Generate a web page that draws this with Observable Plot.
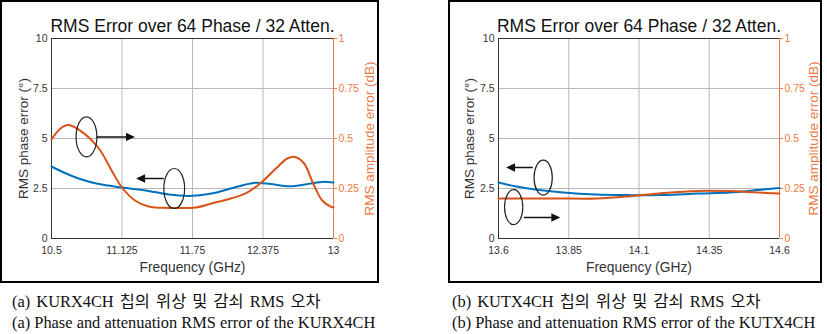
<!DOCTYPE html>
<html>
<head>
<meta charset="utf-8">
<script src="https://cdn.jsdelivr.net/npm/d3@7"></script>
<script src="https://cdn.jsdelivr.net/npm/@observablehq/plot@0.6"></script>
<style>
  body { margin: 0; background: #fff; width: 827px; height: 334px; position: relative; overflow: hidden; }
  .box { position: absolute; border: 2px solid #000; box-sizing: border-box; }
  .chart { position: absolute; }
  .cap { position: absolute; font-family: "Liberation Serif", "Times New Roman", "Noto Sans CJK KR", serif; font-size: 16.4px; line-height: 20px; color: #111; white-space: nowrap; }
  .ko { word-spacing: 2px; }
</style>
</head>
<body>
<div id="chartA" class="chart" style="left:2px;top:2px"></div>
<div id="chartB" class="chart" style="left:450px;top:2px"></div>
<div class="box" style="left:0px;top:0px;width:379px;height:283px"></div>
<div class="box" style="left:448px;top:0px;width:374px;height:283px"></div>
<div class="cap ko" style="left:12px;top:292px">(a) KURX4CH 칩의 위상 및 감쇠 RMS 오차</div>
<div class="cap" style="left:12px;top:313px">(a) Phase and attenuation RMS error of the KURX4CH</div>
<div class="cap ko" style="left:452px;top:292px">(b) KUTX4CH 칩의 위상 및 감쇠 RMS 오차</div>
<div class="cap" style="left:452px;top:313px">(b) Phase and attenuation RMS error of the KUTX4CH</div>
<script>
// ---------- data ----------
const chartTitle = "RMS Error over 64 Phase / 32 Atten.";
const xLabel = "Frequency (GHz)";
const yLabelLeft = "RMS phase error (°)";
const yLabelRight = "RMS amplitude error (dB)";

const yTicks = [0, 2.5, 5, 7.5, 10];           // phase (deg); right axis = /10 dB

// (a) KURX4CH
const aTicksX = [10.5, 11.125, 11.75, 12.375, 13];
const aPhaseFreq = [10.5, 10.59, 10.74, 10.92, 11.125, 11.36, 11.54, 11.72, 11.92, 12.09, 12.29, 12.41, 12.62, 12.8, 12.9, 13.0];
const aPhase     = [3.6, 3.35, 3.0, 2.72, 2.55, 2.38, 2.2, 2.13, 2.25, 2.5, 2.78, 2.75, 2.61, 2.75, 2.83, 2.8];
const aAmpFreq = [10.5, 10.58, 10.65, 10.77, 10.92, 11.04, 11.125, 11.24, 11.36, 11.54, 11.78, 11.92, 12.09, 12.23, 12.35, 12.49, 12.59, 12.66, 12.74, 12.82, 12.9, 12.98, 13.0];
const aAmp     = [0.495, 0.55, 0.567, 0.533, 0.45, 0.333, 0.255, 0.19, 0.16, 0.153, 0.155, 0.175, 0.2, 0.228, 0.275, 0.35, 0.40, 0.408, 0.375, 0.275, 0.19, 0.158, 0.155];
const aEllipseF = [10.81, 11.588];
const aEllipseV = [5.08, 2.5];
const aArrowF1 = [10.9, 11.496];
const aArrowF2 = [11.24, 11.25];
const aArrowV  = [5.08, 3.0];

// (b) KUTX4CH
const bTicksX = [13.6, 13.85, 14.1, 14.35, 14.6];
const bPhaseFreq = [13.6, 13.66, 13.73, 13.83, 13.945, 14.06, 14.19, 14.31, 14.42, 14.52, 14.6];
const bPhase     = [2.8, 2.61, 2.45, 2.3, 2.2, 2.17, 2.17, 2.25, 2.3, 2.42, 2.53];
const bAmpFreq = [13.6, 13.8, 13.95, 14.06, 14.19, 14.31, 14.42, 14.52, 14.6];
const bAmp     = [0.2, 0.2, 0.2, 0.21, 0.228, 0.238, 0.237, 0.23, 0.225];
const bEllipseF = [13.759, 13.654];
const bEllipseV = [3.04, 1.565];
const bArrowF1 = [13.722, 13.69];
const bArrowF2 = [13.627, 13.82];
const bArrowV  = [3.55, 1.05];

// ---------- styling ----------
const BLUE = "#0072BD";
const ORANGE = "#D95319";
const ORANGE_AXIS = "#EC7A45";
const AXIS_GRAY = "#333333";
const GRID = "#b8b8b8";

const ellipseSymbol = {
  draw(ctx, size) {
    const ry = Math.sqrt(size / Math.PI), rx = ry * 0.52, k = 0.5523;
    ctx.moveTo(rx, 0);
    ctx.bezierCurveTo(rx, ry * k, rx * k, ry, 0, ry);
    ctx.bezierCurveTo(-rx * k, ry, -rx, ry * k, -rx, 0);
    ctx.bezierCurveTo(-rx, -ry * k, -rx * k, -ry, 0, -ry);
    ctx.bezierCurveTo(rx * k, -ry, rx, -ry * k, rx, 0);
    ctx.closePath();
  }
};
const headSymbol = {
  draw(ctx) {
    ctx.moveTo(0, 0);
    ctx.lineTo(-9, -4.2);
    ctx.lineTo(-9, 4.2);
    ctx.closePath();
  }
};

function zip(fs, vs) { return fs.map((f, i) => ({f, v: vs[i]})); }

function makeChart(o) {
  const phase = zip(o.phaseFreq, o.phase);
  const amp = zip(o.ampFreq, o.amp);
  const ellipses = zip(o.ellF, o.ellV);
  const arrows = o.arrF1.map((f1, i) => ({f1, f2: o.arrF2[i], v: o.arrV[i]}));
  const x0 = o.ticksX[0], x1 = o.ticksX[o.ticksX.length - 1];
  return Plot.plot({
    width: o.width, height: 279,
    marginLeft: o.ml, marginRight: o.mr, marginTop: 36, marginBottom: 43,
    style: {fontFamily: "Liberation Sans, Arial, sans-serif", background: "transparent", overflow: "visible"},
    x: {domain: [x0, x1]},
    y: {domain: [0, 10]},
    marks: [
      Plot.gridX(o.ticksX, {stroke: GRID, strokeOpacity: 1, strokeWidth: 1}),
      Plot.gridY(yTicks, {stroke: GRID, strokeOpacity: 1, strokeWidth: 1}),
      Plot.ruleY([10], {stroke: AXIS_GRAY, strokeWidth: 1}),
      Plot.ruleY([0], {stroke: AXIS_GRAY, strokeWidth: 1}),
      Plot.ruleX([x0], {stroke: AXIS_GRAY, strokeWidth: 1}),
      Plot.ruleX([x1], {stroke: ORANGE_AXIS, strokeWidth: 1}),
      Plot.axisX(o.ticksX, {tickSize: 0, tickPadding: 8, fontSize: 10.5, color: AXIS_GRAY, label: null, tickFormat: d => String(d)}),
      Plot.axisY(yTicks, {anchor: "left", tickSize: 0, tickPadding: 4, fontSize: 10.5, color: AXIS_GRAY, label: null, tickFormat: d => String(d)}),
      Plot.axisY(yTicks, {anchor: "right", tickSize: 3, tickPadding: 2, fontSize: 10.5, color: ORANGE_AXIS, label: null, tickFormat: d => String(d / 10)}),
      Plot.line(phase, {x: "f", y: "v", stroke: BLUE, strokeWidth: 2, curve: "catmull-rom"}),
      Plot.line(amp, {x: "f", y: d => d.v * 10, stroke: ORANGE, strokeWidth: 2, curve: "catmull-rom"}),
      Plot.dot(ellipses, {x: "f", y: "v", r: o.ellR, symbol: ellipseSymbol, fill: "none", stroke: "#222", strokeWidth: 1.2}),
      Plot.link(arrows, {x1: "f1", x2: d => d.f2 + (d.f2 > d.f1 ? -1 : 1) * o.headShift, y1: "v", y2: "v", stroke: "#111", strokeWidth: 1.5}),
      Plot.dot(arrows, {x: "f2", y: "v", symbol: headSymbol, r: 5, fill: "#111", stroke: "none", rotate: d => d.f2 > d.f1 ? 0 : 180}),
      Plot.text([chartTitle], {frameAnchor: "top", text: d => d, dy: -12, lineAnchor: "middle", fontSize: 17.5, fill: "#111"}),
      Plot.text([xLabel], {frameAnchor: "bottom", text: d => d, dy: 29, lineAnchor: "middle", fontSize: 13.8, fill: AXIS_GRAY}),
      Plot.text([yLabelLeft], {frameAnchor: "left", text: d => d, dx: o.ylDx, rotate: -90, lineAnchor: "middle", textAnchor: "middle", fontSize: 13.5, fill: AXIS_GRAY}),
      Plot.text([yLabelRight], {frameAnchor: "right", text: d => d, dx: o.yrDx, rotate: -90, lineAnchor: "middle", textAnchor: "middle", fontSize: 13.5, fill: ORANGE_AXIS})
    ]
  });
}

document.getElementById("chartA").appendChild(makeChart({
  width: 376, ml: 49, mr: 45,
  ticksX: aTicksX, phaseFreq: aPhaseFreq, phase: aPhase, ampFreq: aAmpFreq, amp: aAmp,
  ellF: aEllipseF, ellV: aEllipseV, ellR: 20, arrF1: aArrowF1, arrF2: aArrowF2, arrV: aArrowV,
  headShift: 0.06, ylDx: -28, yrDx: 36
}));
document.getElementById("chartB").appendChild(makeChart({
  width: 370, ml: 48, mr: 41,
  ticksX: bTicksX, phaseFreq: bPhaseFreq, phase: bPhase, ampFreq: bAmpFreq, amp: bAmp,
  ellF: bEllipseF, ellV: bEllipseV, ellR: 17.5, arrF1: bArrowF1, arrF2: bArrowF2, arrV: bArrowV,
  headShift: 0.025, ylDx: -29, yrDx: 34
}));
</script>
</body>
</html>
